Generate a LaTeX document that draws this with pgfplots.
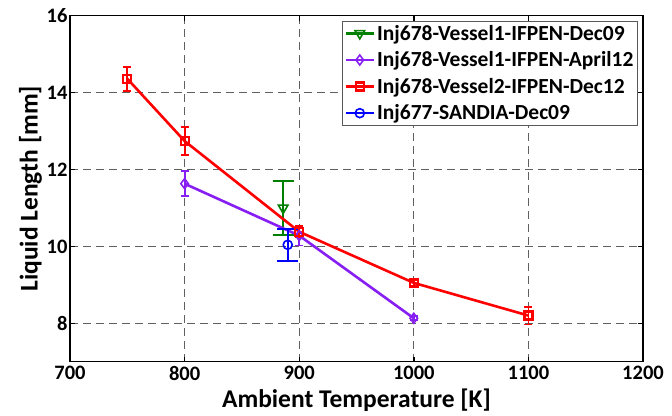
\documentclass[border=0pt]{standalone}
\usepackage{pgfplots}
\pgfplotsset{compat=1.18}
\usetikzlibrary{calc}
\usepackage{fontspec}
\setmainfont{Carlito}
\definecolor{mgreen}{rgb}{0,0.5,0}
\definecolor{mpurple}{rgb}{0.53,0.12,0.95}
\begin{document}
\begin{tikzpicture}
\begin{axis}[
  scale only axis,
  width=573pt, height=346pt,
  xmin=700, xmax=1200, ymin=7, ymax=16,
  xtick={700,800,...,1200}, ytick={8,10,...,16},
  /pgf/number format/assume math mode=true,
  /pgf/number format/1000 sep={},
  tick label style={font=\fontsize{20.5}{22}\selectfont\bfseries},
  xticklabel style={yshift=-1pt},
  yticklabel style={xshift=1pt},
  xlabel={Ambient Temperature [K]},
  ylabel={Liquid Length [mm]},
  label style={font=\fontsize{25.5}{27}\selectfont\bfseries},
  xlabel style={yshift=-1pt},
  ylabel style={yshift=-2pt},
  grid=major,
  major grid style={gray!75!black, line width=0.8pt, dash pattern=on 8pt off 5pt},
  tick align=inside, tick pos=both,
  major tick length=5pt,
  axis line style={line width=1.4pt},
  every tick/.style={black, line width=1.4pt},
  legend style={at={(rel axis cs:0.991,0.9855)}, anchor=north east,
    font=\fontsize{21.5}{23}\selectfont\bfseries, draw=gray!70!black, line width=0.8pt,
    row sep=6pt, inner sep=2pt},
  legend cell align=left,
  legend image code/.code={\draw[mark repeat=2,mark phase=2] plot coordinates {(0pt,0pt) (14pt,0pt) (28pt,0pt)};},
  every axis plot/.append style={line width=2.6pt},
]
\addplot[color=mgreen, mark=triangle, mark options={rotate=180, solid, line width=1.6pt, fill=white}, mark size=5.5pt,
  error bars/.cd, y dir=both, y explicit,
  error bar style={line width=1.8pt},
  error mark options={rotate=90, mark size=10.5pt, line width=1.8pt}]
  coordinates {(886,11.0) +- (0,0.7)};
\addlegendentry{Inj678-Vessel1-IFPEN-Dec09}
\addplot[color=mpurple, mark=diamond, mark options={solid, line width=1.6pt, fill=white}, mark size=5pt,
  error bars/.cd, y dir=both, y explicit,
  error bar style={line width=1.8pt},
  error mark options={rotate=90, mark size=4pt, line width=1.8pt}]
  coordinates {(800,11.63) +- (0,0.33) (900,10.28) +- (0,0.26) (1000,8.13) +- (0,0.05)};
\addlegendentry{Inj678-Vessel1-IFPEN-April12}
\addplot[color=red, mark=square, mark options={solid, line width=2.2pt, fill=white}, mark size=4pt,
  error bars/.cd, y dir=both, y explicit,
  error bar style={line width=1.8pt},
  error mark options={rotate=90, mark size=4pt, line width=1.8pt}]
  coordinates {(750,14.36) +- (0,0.31) (800,12.74) +- (0,0.36) (900,10.38) +- (0,0.15) (1000,9.05) +- (0,0.08) (1100,8.2) +- (0,0.23)};
\addlegendentry{Inj678-Vessel2-IFPEN-Dec12}
\addplot[color=blue, mark=o, mark options={solid, line width=1.6pt, fill=white}, mark size=4.5pt,
  error bars/.cd, y dir=both, y explicit,
  error bar style={line width=1.8pt},
  error mark options={rotate=90, mark size=10.5pt, line width=1.8pt}]
  coordinates {(890,10.04) +- (0,0.42)};
\addlegendentry{Inj677-SANDIA-Dec09}
\end{axis}
\pgfresetboundingbox
\useasboundingbox ($(current axis.south west)+(-70pt,-53.5pt)$) rectangle ($(current axis.north east)+(29pt,15.7pt)$);
\end{tikzpicture}
\end{document}
